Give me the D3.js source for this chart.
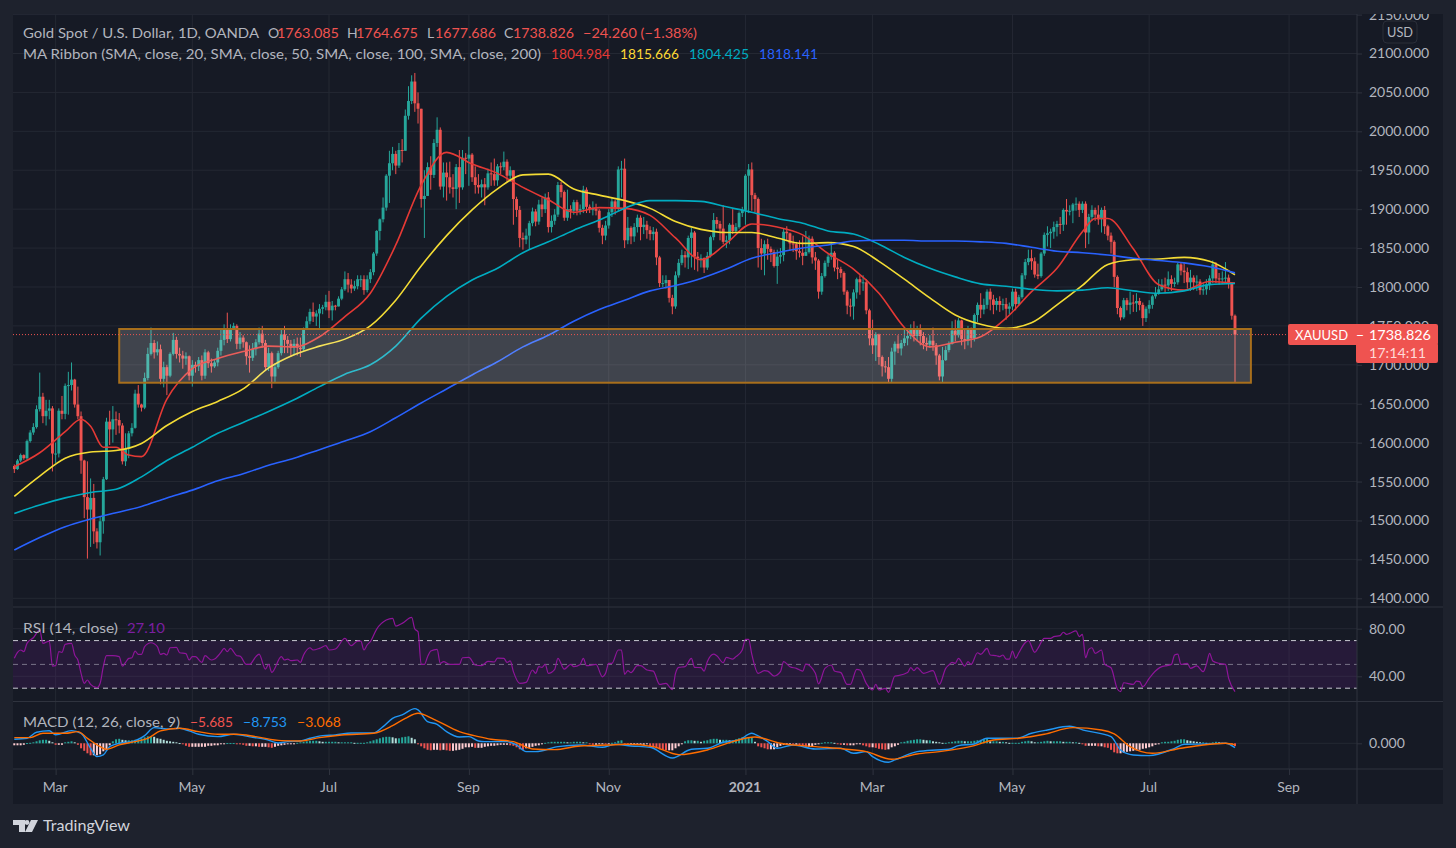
<!DOCTYPE html>
<html>
<head>
<meta charset="utf-8">
<script src="https://d3js.org/d3.v7.min.js"></script>
<style>
  html, body { margin: 0; padding: 0; background: #1e222d; overflow: hidden; }
  text { font-family: Lato, "Noto Sans", sans-serif; }
</style>
</head>
<body>
<svg id="chart" width="1456" height="848"></svg>
<script>
// Daily candles (10 per line)
const closes = [
  1566,1577,1584,1580,1602,1613,1620,1643,1659,1634,
  1641,1644,1586,1586,1641,1637,1673,1674,1681,1649,
  1634,1577,1530,1514,1529,1486,1472,1499,1553,1627,
  1617,1630,1629,1622,1576,1592,1612,1619,1663,1649,
  1645,1683,1714,1728,1716,1720,1682,1697,1686,1714,
  1732,1714,1712,1708,1711,1686,1700,1698,1706,1686,
  1716,1702,1698,1703,1718,1732,1745,1733,1745,1750,
  1727,1735,1729,1711,1709,1720,1729,1740,1728,1697,
  1715,1685,1697,1715,1739,1732,1727,1722,1727,1722,
  1720,1745,1756,1768,1762,1766,1772,1774,1781,1770,
  1776,1775,1785,1797,1810,1803,1798,1801,1810,1810,
  1796,1810,1819,1843,1872,1887,1902,1943,1959,1971,
  1956,1976,1975,2020,2039,2064,2036,2029,1913,1917,
  1954,1944,1985,2002,1929,1947,1941,1928,1926,1954,
  1928,1966,1965,1970,1941,1931,1928,1932,1928,1946,
  1945,1937,1955,1954,1961,1943,1950,1913,1899,1863,
  1861,1866,1882,1897,1884,1906,1900,1915,1877,1885,
  1893,1931,1922,1889,1900,1898,1909,1898,1900,1925,
  1903,1900,1900,1898,1876,1866,1879,1896,1910,1901,
  1951,1952,1860,1876,1865,1877,1889,1877,1880,1873,
  1868,1871,1838,1805,1805,1809,1786,1775,1815,1831,
  1841,1838,1863,1870,1839,1837,1837,1825,1840,1864,
  1886,1881,1875,1858,1860,1880,1872,1877,1895,1899,
  1943,1951,1918,1913,1850,1843,1855,1849,1845,1827,
  1839,1841,1871,1869,1856,1855,1846,1844,1840,1845,
  1862,1838,1834,1794,1814,1831,1839,1844,1825,1823,
  1818,1794,1776,1775,1793,1810,1806,1806,1770,1734,
  1725,1739,1710,1698,1697,1682,1717,1727,1721,1728,
  1734,1737,1746,1737,1746,1737,1728,1726,1731,1725,
  1712,1685,1706,1719,1727,1744,1738,1757,1733,1731,
  1746,1734,1764,1777,1771,1777,1794,1784,1777,1782,
  1777,1778,1772,1775,1794,1778,1787,1815,1832,1837,
  1833,1816,1814,1843,1867,1869,1871,1877,1881,1880,
  1899,1897,1898,1906,1907,1899,1907,1870,1890,1899,
  1893,1887,1899,1878,1866,1858,1813,1773,1761,1783,
  1777,1780,1779,1782,1777,1760,1772,1777,1788,1792,
  1797,1803,1802,1810,1804,1806,1829,1821,1819,1806,
  1812,1806,1807,1796,1797,1803,1811,1829,1811,1810,
  1811,1812,1804,1763.085,1738.826
];
const highs = [
  1572,1579,1586,1585,1604,1616,1625,1648,1690,1664,
  1655,1655,1647,1600,1644,1660,1676,1691,1703,1682,
  1672,1640,1578,1576,1554,1547,1490,1505,1556,1632,
  1641,1647,1640,1638,1625,1612,1615,1625,1668,1674,
  1650,1690,1722,1748,1732,1730,1726,1704,1700,1716,
  1741,1736,1722,1718,1716,1712,1706,1704,1710,1712,
  1720,1718,1708,1706,1722,1745,1752,1767,1752,1754,
  1752,1742,1738,1730,1725,1728,1733,1748,1750,1732,
  1722,1717,1702,1718,1745,1750,1737,1732,1733,1735,
  1735,1748,1762,1772,1780,1770,1778,1777,1790,1795,
  1782,1777,1788,1800,1820,1818,1810,1808,1815,1815,
  1815,1815,1823,1845,1873,1888,1915,1945,1975,1980,
  1975,1985,1990,2028,2058,2072,2075,2050,2029,1950,
  1960,1968,1990,2018,2005,1960,1960,1961,1945,1958,
  1976,1976,1972,1993,1972,1955,1945,1938,1940,1952,
  1960,1965,1958,1960,1974,1964,1955,1950,1916,1904,
  1870,1875,1885,1902,1900,1912,1915,1920,1922,1892,
  1900,1935,1935,1924,1925,1905,1912,1912,1906,1930,
  1928,1906,1910,1907,1900,1880,1885,1900,1915,1912,
  1955,1962,1965,1890,1878,1882,1893,1892,1890,1885,
  1878,1877,1875,1840,1815,1815,1808,1790,1820,1836,
  1848,1846,1866,1876,1872,1845,1842,1838,1845,1866,
  1895,1890,1885,1905,1866,1882,1900,1882,1897,1903,
  1945,1958,1960,1921,1915,1862,1860,1862,1852,1848,
  1848,1850,1875,1878,1870,1866,1858,1860,1865,1872,
  1866,1865,1845,1836,1818,1834,1842,1858,1846,1835,
  1826,1820,1796,1785,1797,1812,1815,1815,1810,1772,
  1758,1742,1740,1712,1705,1710,1722,1730,1738,1732,
  1745,1745,1752,1756,1750,1752,1742,1735,1738,1748,
  1728,1714,1723,1724,1730,1756,1758,1760,1758,1745,
  1750,1748,1766,1780,1792,1785,1797,1798,1790,1786,
  1788,1785,1786,1780,1798,1798,1790,1818,1836,1848,
  1848,1838,1830,1845,1870,1878,1875,1884,1885,1890,
  1901,1913,1905,1908,1915,1910,1910,1910,1894,1905,
  1902,1905,1902,1904,1880,1870,1860,1815,1775,1786,
  1786,1794,1790,1792,1786,1780,1775,1783,1790,1800,
  1810,1810,1812,1820,1815,1812,1831,1832,1832,1825,
  1822,1815,1815,1810,1805,1810,1815,1834,1832,1818,
  1820,1832,1816,1806,1764.675
];
const lows = [
  1561,1565,1575,1578,1578,1600,1610,1618,1640,1625,
  1622,1630,1563,1574,1581,1630,1630,1636,1667,1645,
  1630,1560,1503,1451,1466,1470,1464,1455,1483,1552,
  1597,1600,1610,1612,1572,1570,1580,1608,1618,1645,
  1640,1643,1680,1712,1708,1712,1675,1671,1661,1684,
  1712,1708,1703,1695,1700,1680,1672,1690,1692,1680,
  1682,1696,1690,1696,1698,1712,1725,1728,1730,1745,
  1720,1720,1722,1700,1690,1705,1712,1726,1722,1692,
  1692,1670,1678,1695,1712,1715,1715,1710,1712,1712,
  1710,1718,1745,1752,1755,1750,1747,1765,1770,1760,
  1757,1770,1775,1783,1795,1793,1792,1795,1797,1800,
  1790,1793,1805,1815,1840,1860,1883,1898,1908,1950,
  1945,1953,1960,1975,2015,2035,2025,2010,1902,1863,
  1917,1925,1940,1980,1925,1915,1911,1920,1915,1900,
  1908,1925,1945,1930,1935,1920,1920,1915,1905,1925,
  1930,1930,1930,1945,1950,1935,1935,1880,1890,1851,
  1848,1855,1848,1878,1878,1880,1890,1895,1870,1870,
  1880,1890,1915,1885,1885,1888,1893,1892,1893,1895,
  1895,1895,1892,1892,1870,1855,1860,1875,1890,1893,
  1898,1915,1850,1855,1855,1858,1870,1860,1868,1862,
  1860,1860,1828,1800,1800,1798,1780,1765,1772,1812,
  1828,1825,1823,1825,1822,1820,1825,1818,1822,1838,
  1860,1875,1860,1855,1850,1855,1868,1870,1875,1890,
  1880,1895,1898,1896,1825,1822,1815,1835,1832,1825,
  1804,1830,1833,1860,1847,1845,1835,1838,1828,1840,
  1843,1830,1822,1785,1790,1812,1826,1835,1820,1810,
  1812,1790,1765,1762,1758,1785,1790,1795,1765,1725,
  1714,1705,1700,1685,1690,1677,1678,1700,1715,1712,
  1724,1725,1733,1730,1730,1725,1720,1718,1722,1718,
  1700,1680,1678,1705,1716,1726,1730,1735,1725,1720,
  1725,1722,1730,1755,1760,1765,1772,1770,1765,1770,
  1768,1770,1758,1765,1770,1770,1776,1785,1810,1828,
  1822,1812,1810,1812,1840,1852,1850,1862,1865,1868,
  1872,1880,1892,1882,1898,1890,1895,1850,1855,1885,
  1885,1880,1870,1868,1860,1843,1800,1765,1757,1759,
  1770,1765,1768,1768,1770,1750,1755,1766,1772,1785,
  1790,1795,1792,1795,1795,1800,1803,1815,1805,1798,
  1795,1796,1795,1790,1790,1790,1796,1805,1805,1803,
  1804,1805,1798,1758,1677.686
];
const firstOpen = 1570;

// Moving averages, read every 8 bars
const maIdx = [0,8,16,24,32,40,48,56,64,72,80,88,96,104,112,120,128,136,144,152,160,168,176,184,192,200,208,216,224,232,240,248,256,264,272,280,288,296,304,312,320,328,336,344,352,360,368,376,384];
const sma20Idx = [0,8,16,21,24,28,32,36,40,48,56,64,72,80,88,96,104,112,120,128,136,144,152,160,168,176,184,192,200,208,216,224,232,240,248,256,264,272,280,288,296,304,312,320,328,336,340,344,352,360,368,376,384];
const sma20 = [1569,1587,1614,1630,1621,1594,1594,1584,1582,1656,1695,1708,1717,1724,1723,1736,1762,1792,1854,1931,1973,1958,1946,1928,1912,1896,1902,1901,1892,1863,1835,1856,1881,1877,1867,1843,1823,1792,1748,1723,1729,1736,1760,1794,1824,1871,1888,1888,1849,1803,1796,1807,1804.984];
const sma50 = [1531,1557,1580,1588,1590,1599,1622,1640,1653,1669,1696,1713,1724,1733,1750,1783,1827,1866,1899,1926,1944,1945,1926,1918,1911,1901,1884,1874,1870,1870,1863,1856,1857,1852,1833,1810,1786,1764,1752,1747,1754,1777,1802,1829,1835,1836,1838,1833,1815.666];
const sma100 = [1509,1520,1529,1536,1540,1556,1577,1594,1612,1626,1640,1655,1672,1688,1700,1724,1760,1788,1809,1824,1844,1858,1873,1886,1901,1911,1911,1910,1903,1896,1888,1882,1872,1868,1855,1838,1824,1813,1804,1801,1797,1795,1796,1799,1795,1792,1795,1803,1804.425];
const sma200 = [1462,1478,1492,1502,1510,1518,1529,1539,1551,1560,1571,1580,1591,1602,1614,1632,1651,1669,1687,1704,1723,1738,1756,1771,1783,1795,1802,1811,1823,1837,1844,1850,1854,1859,1860,1860,1859,1859,1858,1856,1851,1846,1844,1841,1837,1834,1831,1826,1818.141];

// RSI, bar index and value
const rsiIdx = [0,1,2,3,4,6,8,9,11,12,13,14,15,16,18,19,20,21,22,23,24,26,27,28,29,31,33,34,35,36,37,38,39,40,41,43,45,46,47,48,49,51,52,54,55,56,57,59,60,62,63,65,66,67,68,70,71,73,74,76,77,79,80,81,84,85,86,87,89,90,91,93,94,96,98,99,101,104,106,108,109,110,111,112,114,117,119,120,122,125,126,127,128,129,130,131,133,134,135,137,139,140,141,143,145,147,149,151,152,154,155,156,157,159,161,163,164,165,166,167,168,170,171,173,175,176,178,179,180,183,185,186,187,188,190,191,192,193,194,196,197,199,201,203,205,207,208,209,211,213,214,216,217,218,220,221,223,224,226,227,229,230,231,232,234,236,237,239,241,242,244,246,248,249,252,253,255,257,258,260,262,263,265,266,268,270,271,272,274,275,277,278,281,282,283,284,286,289,291,293,294,295,296,297,299,300,301,303,304,306,307,309,310,311,312,313,314,315,316,318,319,321,322,324,326,327,329,330,331,332,334,335,336,337,338,339,340,342,343,345,347,348,349,352,353,354,355,357,358,361,362,364,365,366,367,369,370,372,374,375,376,377,379,381,382,384];
const rsiVal = [55.1,60.1,62.1,60.7,67.7,72.4,78.9,67.7,69.6,48.6,48.9,60.7,60.1,66.8,67.7,57.9,53.7,42.5,34.1,36.9,33.2,30.4,34.1,48.1,57.3,57.3,56.5,48.6,51.7,55.1,55.6,61.2,58.4,58.4,64.9,68.2,64.9,58.4,59.3,57.9,64,64.3,59.8,59,53.7,56.5,56.5,51.7,57.3,53.7,54.5,60.1,63.5,60.7,63.5,57.3,57,50,50,56.5,58.7,46.1,50,43.3,56.5,53.7,54.5,53.1,53.7,51.7,57.9,64,62.1,63.5,65.7,62.1,62.9,71.9,65.7,69.6,69.6,62.1,66.3,69.1,79.7,87.3,88.7,82.2,84.5,89.5,79.7,77.5,50,50,56.5,61.2,62.6,50.9,52.3,50,50,50,55.6,55.9,49.5,48.9,52.6,52,55.3,55.1,51.7,52.9,43.9,34.1,34.9,45.3,42.5,48.1,47.5,50,42.5,45.9,55.1,46.1,50,48.1,50,55.1,48.9,50,39.6,42.5,50.9,50.9,62.1,62.1,41.7,44.8,43.1,48.9,48.9,45.3,44.4,33.2,34.1,28.7,42.5,47.5,48.1,55.1,47.5,47.3,44.4,52.3,58.7,57.3,51.4,55.9,54.5,56.5,62.1,71,71,58.4,42.5,44.8,44.4,40.2,43.9,52.3,48.1,46.7,44.4,50.3,42.5,33.6,46.7,49.5,44.4,43.1,33.2,33.2,45.9,45.3,34.1,28.5,33.2,28.5,29.9,26.5,40.2,40.5,43.1,47.3,44.8,47.3,42.5,44.8,33.2,46.7,49.5,51.7,50.9,55.1,48.6,52.3,50,59.8,58.4,63.5,57.9,57.3,56.5,57.9,54.5,54.5,61.2,55.1,59.8,68.2,69.9,60.1,63.5,71.9,71.9,73.3,74.2,77,75.3,76.1,78.1,73.3,75.3,55.6,62.6,64,59.3,62.1,50,47.2,29.3,27.1,34.6,33.2,36,35.5,31.3,38.3,41.7,48.1,48.7,50,57.9,58.7,50,50.9,46.7,48.7,43.9,50,59.3,52.9,50.9,50,38.3,27.1];

// MACD line and signal line, bar index and value
const macdIdx = [0,4,7,11,13,18,21,24,26,28,30,34,37,41,44,48,52,55,58,64,69,75,79,83,86,90,93,97,101,106,113,116,119,122,126,127,130,133,136,140,143,146,148,155,158,161,164,171,178,185,189,194,200,207,213,218,223,228,232,233,237,240,245,252,260,264,268,270,275,277,284,290,294,297,302,306,315,320,325,332,337,345,348,352,357,365,368,375,381,384];
const macdVal = [8,10,22,25,17,25.3,20,-10,-26.7,-23.3,-6.7,1.3,3.3,15.3,31.3,28.7,30,24.7,18,13.3,18,12,8,0.7,3.3,4.7,10,15.3,16.7,20.7,20.7,33.3,50,56.7,69.3,66.7,43.3,38,23.3,12.7,13.3,4.7,3.3,3.3,-3.3,-16.7,-16.7,-6.7,-3.3,-8,-2,-5.3,-8,-29.3,-12,-10,2,6.7,20,18,3.3,-10,-3.3,-11.3,-10,-20,-16.7,-26.7,-38,-33.3,-16.7,-13.3,-12,-4.7,-1.3,10,10,20,26.7,34,25.3,13.3,-13.3,-23.3,-24.7,-10,-2,-1.3,0,-8.753];
const signalIdx = [0,5,9,16,20,23,27,29,33,38,42,46,52,58,64,70,76,84,90,96,103,113,119,123,127,132,140,146,150,157,163,170,178,187,193,201,209,218,226,233,241,252,261,268,276,284,291,302,308,316,324,333,342,346,351,358,367,374,381,384];
const signalVal = [11.3,11.3,20,20,23.3,10,-6.7,-12,-3.3,3.3,10,24.7,30,23.3,18,18,13.3,5.3,4.7,11.3,16.7,20,35.3,50,60,48,23.3,13.3,8,3.3,-11.3,-12.7,-5.3,-3.3,-2,-6.7,-22.7,-13.3,3.3,12.7,0,-6.7,-11.3,-16.7,-32,-21.3,-16.7,-4.7,6.7,10,18,31.3,26.7,18.7,-6.7,-20,-10,-3.3,0,-3.068];
const histVal = [
  -4,-4,-4,-3,0.5,1,2,4,6,7,
  7,5,2,-3,-3,-3,2,3,4,2,
  -3,-10,-15,-20,-24,-24,-24,-22,-16,-14,
  -4,4,8,9,7,6,6,6,7,8,
  10,12,14,14,13,10,9,7,5,4,
  3,2,0.5,-1,-5,-7,-7,-7,-7,-7,
  -7,-5,-5,-4,-4,-2,-1,0.5,0.5,0.5,
  -1,-2,-3,-5,-5,-6,-6,-7,-7,-7,
  -8,-9,-7,-5,-4,-3,-2,-1,-1,1,
  2,3,4,5,5,5,4,3,3,3,
  3,3,2,2,2,2,2,1,1,1,
  1,2,4,6,8,10,12,13,13,12,
  10,10,12,13,14,11,8,-2,-6,-10,
  -13,-14,-13,-13,-14,-13,-14,-15,-15,-14,
  -13,-11,-8,-8,-7,-9,-9,
  -9,-7,-6,-5,-5,-4,-3,-3,-3,-4,
  -5,-8,-12,-13,-10,-9,-7,-5,-4,-2,
  1,2,3,3,3,3,3,2,2,3,
  3,3,2,2,-2,-3,-3,-2,-1,-2,
  -1,1,2,5,6,-1,-3,-3,-3,-3,
  -3,-3,-2,-7,-9,-10,-12,-13,-14,-14,
  -14,-10,-6,-2,4,6,6,5,5,3,
  5,6,8,9,9,7,7,7,6,6,
  8,10,12,12,12,12,3,-6,-8,-10,
  -12,-12,-12,-8,-5,-3,-3,-2,-3,-3,
  -4,-5,-7,-7,-6,-3,-2,1,2,2,
  2,1,-1,-3,-3,-4,-4,-4,-2,-2,
  -4,-6,-8,-8,-9,-11,-12,-13,-12,-8,
  -6,-3,2,3,5,6,7,8,8,7,
  6,6,4,3,2,1,1,2,3,4,
  5,5,4,4,4,5,6,7,8,9,
  4,4,4,3,3,2,1,1,1,1,
  3,4,5,4,2,2,3,4,5,4,
  4,4,4,3,3,3,2,2,1,-1,
  -5,-5,-5,-5,-6,-6,-8,-9,-13,-18,
  -20,-20,-19,-17,-16,-15,-14,-13,-11,-10,
  -8,-6,-3,-1,2,3,3,4,5,7,
  8,8,6,5,4,3,2,2,1,1,
  2,3,2,1,1,0.5,-1,-5.685
];

// Axis ticks
const priceTicks = [1400,1450,1500,1550,1600,1650,1700,1750,1800,1850,1900,1950,2000,2050,2100,2150];
const rsiTicks = [80,40];
const macdTicks = [0];
const monthIdx = [13,56,99,143,187,230,270,314,357,401];
const monthLabels = ["Mar","May","Jul","Sep","Nov","2021","Mar","May","Jul","Sep"];

// Support box and last price
const boxBars = [33,389];
const boxPrices = [1746,1677];
const lastPrice = 1738.826;

const GRID = "#242833", SEP = "#2f333e", TXT = "#b2b5be", UP = "#26a69a", DOWN = "#ef5350";

const svg = d3.select("#chart");
const pane = {left: 13, right: 1357, scaleRight: 1443, top: 14, mainBottom: 607, rsiBottom: 701.5, macdBottom: 769, bottom: 804};

// Scales
const x = d3.scaleLinear().domain([0,384]).range([14.3,1235]);
const y = d3.scaleLinear().domain([1400,2100]).range([598.3,53.5]);
const yRsi = d3.scaleLinear().domain([40,80]).range([676.3,628.7]);
const yMacd = d3.scaleLinear().domain([0,1]).range([743.3,742.8]);

// Backgrounds
svg.append("rect").attr("width",1456).attr("height",848).attr("fill","#1e222d");
svg.append("rect").attr("x",pane.left).attr("y",pane.top).attr("width",pane.scaleRight-pane.left).attr("height",pane.bottom-pane.top).attr("fill","#161a25");

const defs = svg.append("defs");
function addClip(id,x0,y0,x1,y1) {
    defs.append("clipPath").attr("id",id).append("rect").attr("x",x0).attr("y",y0).attr("width",x1-x0).attr("height",y1-y0);
}
addClip("clipMain",pane.left,pane.top,pane.right,pane.mainBottom);
addClip("clipRsi",pane.left,pane.mainBottom,pane.right,pane.rsiBottom);
addClip("clipMacd",pane.left,pane.rsiBottom,pane.right,pane.macdBottom);
addClip("clipScale",pane.right,pane.top,pane.scaleRight,pane.mainBottom);

// Grid lines
const grid = svg.append("g").attr("stroke",GRID).attr("stroke-width",1);
monthIdx.forEach(m => {
    grid.append("line").attr("x1",x(m)).attr("x2",x(m)).attr("y1",pane.top).attr("y2",pane.macdBottom);
});
priceTicks.forEach(p => {
    grid.append("line").attr("x1",pane.left).attr("x2",pane.right).attr("y1",y(p)).attr("y2",y(p));
});
rsiTicks.forEach(v => {
    grid.append("line").attr("x1",pane.left).attr("x2",pane.right).attr("y1",yRsi(v)).attr("y2",yRsi(v));
});
grid.append("line").attr("x1",pane.left).attr("x2",pane.right).attr("y1",yMacd(0)).attr("y2",yMacd(0));

// Candles
const main = svg.append("g").attr("clip-path","url(#clipMain)");
closes.forEach((c,i) => {
    let o = i == 0 ? firstOpen : closes[i-1];
    let col = c >= o ? UP : DOWN;
    main.append("line").attr("x1",x(i)).attr("x2",x(i)).attr("y1",y(highs[i])).attr("y2",y(lows[i]))
        .attr("stroke",col).attr("stroke-width",1);
    main.append("rect").attr("x",x(i)-1.45).attr("width",2.9)
        .attr("y",y(Math.max(o,c))).attr("height",Math.max(1,Math.abs(y(o)-y(c))))
        .attr("fill",col);
});

// Moving averages
const bend = d3.curveMonotoneX;
function drawLine(parent,idx,vals,scale,color,width) {
    let line = d3.line().x(d => x(d[0])).y(d => scale(d[1])).curve(bend);
    parent.append("path").attr("d",line(d3.zip(idx,vals))).attr("fill","none")
        .attr("stroke",color).attr("stroke-width",width);
}
drawLine(main,sma20Idx,sma20,y,"#e53935",1.6);
drawLine(main,maIdx,sma50,y,"#f4dc35",1.6);
drawLine(main,maIdx,sma100,y,"#00acc1",1.6);
drawLine(main,maIdx,sma200,y,"#2962ff",1.6);

// Support box, over the candles
main.append("rect").attr("x",x(boxBars[0])).attr("width",x(boxBars[1])-x(boxBars[0]))
    .attr("y",y(boxPrices[0])).attr("height",y(boxPrices[1])-y(boxPrices[0]))
    .attr("fill","rgba(255,255,255,0.185)").attr("stroke","#a86f1c").attr("stroke-width",2);

// Last price line
svg.append("line").attr("x1",pane.left).attr("x2",1288).attr("y1",y(lastPrice)).attr("y2",y(lastPrice))
    .attr("stroke",DOWN).attr("stroke-width",1).attr("stroke-dasharray","1 2");

// RSI pane
const rsiG = svg.append("g").attr("clip-path","url(#clipRsi)");
rsiG.append("rect").attr("x",pane.left).attr("width",pane.right-pane.left).attr("y",yRsi(70)).attr("height",yRsi(30)-yRsi(70))
    .attr("fill","rgba(123,31,162,0.16)");
[[70,"#c9c9d2"],[50,"#787488"],[30,"#c9c9d2"]].forEach(r => {
    rsiG.append("line").attr("x1",pane.left).attr("x2",pane.right).attr("y1",yRsi(r[0])).attr("y2",yRsi(r[0]))
        .attr("stroke",r[1]).attr("stroke-dasharray","5 4");
});
drawLine(rsiG,rsiIdx,rsiVal,yRsi,"#8e1599",1.2);

// MACD pane
const macdG = svg.append("g").attr("clip-path","url(#clipMacd)");
histVal.forEach((v,i) => {
    let prev = i == 0 ? v : histVal[i-1];
    let col;
    if (v >= 0) col = v >= prev ? UP : "#b2dfdb";
    else col = v < prev ? DOWN : "#ffcdd2";
    macdG.append("rect").attr("x",x(i)-1).attr("width",2)
        .attr("y",Math.min(yMacd(0),yMacd(v))).attr("height",Math.max(1,Math.abs(yMacd(v)-yMacd(0))))
        .attr("fill",col);
});
drawLine(macdG,macdIdx,macdVal,yMacd,"#2196f3",1.4);
drawLine(macdG,signalIdx,signalVal,yMacd,"#ff6d00",1.4);

// Pane borders
const borders = svg.append("g").attr("stroke",SEP).attr("stroke-width",1);
[pane.mainBottom,pane.rsiBottom,pane.macdBottom].forEach(b => {
    borders.append("line").attr("x1",pane.left).attr("x2",pane.scaleRight).attr("y1",b).attr("y2",b);
});
borders.append("line").attr("x1",pane.right).attr("x2",pane.right).attr("y1",pane.top).attr("y2",pane.bottom);

// Axes
function styleAxis(g) {
    g.select(".domain").remove();
    g.selectAll("line").attr("stroke",SEP);
    g.selectAll("text").attr("fill",TXT).style("font-family","Lato, 'Noto Sans', sans-serif").style("font-size","14px");
}
svg.append("g").attr("clip-path","url(#clipScale)").append("g").attr("transform",`translate(${pane.right},0)`)
    .call(d3.axisRight(y).tickValues(priceTicks).tickFormat(d => d.toFixed(3)).tickSize(5).tickPadding(7))
    .call(styleAxis);
svg.append("g").attr("transform",`translate(${pane.right},0)`)
    .call(d3.axisRight(yRsi).tickValues(rsiTicks).tickFormat(d => d.toFixed(2)).tickSize(5).tickPadding(7))
    .call(styleAxis);
svg.append("g").attr("transform",`translate(${pane.right},0)`)
    .call(d3.axisRight(yMacd).tickValues(macdTicks).tickFormat(d => d.toFixed(3)).tickSize(5).tickPadding(7))
    .call(styleAxis);
const xAxis = svg.append("g").attr("transform",`translate(-1,${pane.macdBottom})`)
    .call(d3.axisBottom(x).tickValues(monthIdx).tickFormat((d,i) => monthLabels[i]).tickSize(6).tickPadding(7))
    .call(styleAxis);
xAxis.selectAll("line").attr("transform","translate(1,0)");
xAxis.selectAll("text").filter((d,i) => monthLabels[i] == "2021").style("font-weight","700");

// Legend text; every piece is fitted to the width it has in the picture
function label(x0,yy,txt,color,width) {
    let t = svg.append("text").attr("x",x0).attr("y",yy).attr("fill",color).style("font-size","14px").text(txt);
    if (width) t.attr("textLength",width).attr("lengthAdjust","spacingAndGlyphs");
    return t;
}
const red = "#ef5350";
label(23,38,"Gold Spot / U.S. Dollar, 1D, OANDA",TXT,236);
label(268,38,"O",TXT);
label(277,38,"1763.085",red,62);
label(347,38,"H",TXT);
label(356,38,"1764.675",red,62);
label(427,38,"L",TXT);
label(435,38,"1677.686",red,61);
label(504,38,"C",TXT);
label(513,38,"1738.826",red,61);
label(583,38,"\u221224.260 (\u22121.38%)",red,114);
label(23,59,"MA Ribbon (SMA, close, 20, SMA, close, 50, SMA, close, 100, SMA, close, 200)",TXT,518);
label(551,59,"1804.984","#e53935",59);
label(620,59,"1815.666","#fdd835",59);
label(689,59,"1804.425","#00acc1",60);
label(759,59,"1818.141","#2962ff",59);
label(23,633,"RSI (14, close)",TXT,95);
label(127,633,"27.10","#7b1fa2",38);
label(23,727,"MACD (12, 26, close, 9)",TXT,157);
label(190,727,"\u22125.685",red,43);
label(243,727,"\u22128.753","#2196f3",44);
label(297,727,"\u22123.068","#ff6d00",44);

// USD button
svg.append("rect").attr("x",1383).attr("y",21).attr("width",34).attr("height",22).attr("rx",4)
    .attr("fill","#161a25").attr("stroke","#2a2e39");
label(1387,37,"USD",TXT,26);

// Last price tag
svg.append("rect").attr("x",1288).attr("y",324).attr("width",150).attr("height",21).attr("rx",2).attr("fill",DOWN);
svg.append("rect").attr("x",1356).attr("y",343).attr("width",82).attr("height",20).attr("rx",2).attr("fill",DOWN);
label(1295,340,"XAUUSD","#ffffff",53);
label(1356,340,"\u2212","#ffffff",8);
label(1369,340,"1738.826","#ffffff",62);
label(1369,358,"17:14:11","#ffd9d7",57);

// TradingView mark
svg.append("path").attr("fill","#d1d4dc").attr("d","M13 820h12v12h-6v-7h-6zM31 820h7l-6 12h-7z");
svg.append("circle").attr("cx",27).attr("cy",822.5).attr("r",2.4).attr("fill","#d1d4dc");
label(43,831,"TradingView","#d1d4dc",87).style("font-size","16px");
</script>
</body>
</html>
